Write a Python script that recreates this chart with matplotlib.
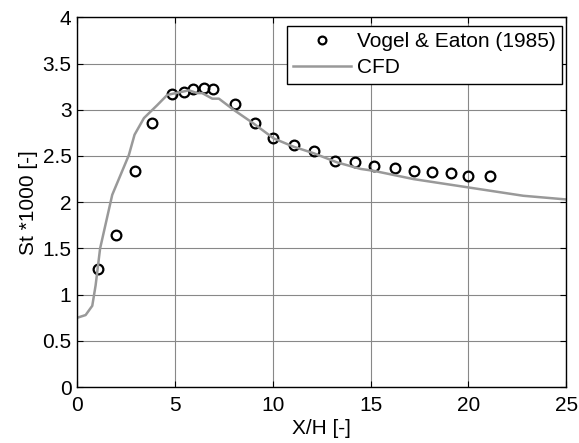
import numpy as np
import matplotlib.pyplot as plt

plt.rcParams['font.family'] = ['Liberation Sans', 'DejaVu Sans']

# Vogel & Eaton (1985) experiment
exp_x = [1.09, 1.97, 2.98, 3.85, 4.83, 5.46, 5.94, 6.48, 6.96, 8.05, 9.07, 10.0,
         11.1, 12.13, 13.2, 14.2, 15.2, 16.26, 17.2, 18.16, 19.1, 20.0, 21.1]
exp_st = [1.28, 1.65, 2.34, 2.86, 3.17, 3.19, 3.22, 3.23, 3.22, 3.06, 2.86, 2.69,
          2.62, 2.55, 2.45, 2.44, 2.39, 2.37, 2.34, 2.33, 2.32, 2.28, 2.28]

# CFD
cfd_x = [0.0, 0.44, 0.78, 0.95, 1.18, 1.8, 2.65, 2.94, 3.42, 4.1, 4.61, 5.04, 5.72,
         6.14, 6.4, 6.91, 7.25, 8.0, 9.03, 10.05, 11.07, 12.09, 13.3, 14.5, 15.15,
         17.2, 20.0, 22.8, 25.0]
cfd_st = [0.75, 0.78, 0.88, 1.1, 1.5, 2.08, 2.51, 2.73, 2.91, 3.05, 3.16, 3.18, 3.21,
          3.18, 3.18, 3.12, 3.12, 3.0, 2.85, 2.69, 2.6, 2.53, 2.43, 2.36, 2.34,
          2.25, 2.16, 2.07, 2.03]

fig = plt.figure(figsize=(5.79, 4.43), dpi=100)
ax = fig.add_axes([0.133, 0.126, 0.845, 0.835])

ax.plot(exp_x, exp_st, 'o', mfc='none', mec='black', mew=1.6, ms=7,
        label='Vogel & Eaton (1985)')
ax.plot(cfd_x, cfd_st, '-', color='#999999', lw=1.8, label='CFD')

ax.set_xlim(0, 25)
ax.set_ylim(0, 4)
ax.set_xticks(np.arange(0, 26, 5))
ax.set_yticks(np.arange(0, 4.01, 0.5))
ax.set_yticklabels(['0', '0.5', '1', '1.5', '2', '2.5', '3', '3.5', '4'])
ax.grid(True, color='#888888', lw=0.8)
ax.set_axisbelow(True)
ax.tick_params(direction='in', top=True, right=True, labelsize=15, length=4)
ax.tick_params(axis='x', pad=6)
ax.tick_params(axis='y', pad=4)
for s in ax.spines.values():
    s.set_linewidth(1.0)

ax.set_xlabel('X/H [-]', fontsize=15, labelpad=3)
ax.set_ylabel('St *1000 [-]', fontsize=15, labelpad=3)

leg = ax.legend(loc='upper right', bbox_to_anchor=(0.992, 0.977), fontsize=15,
                fancybox=False, framealpha=1, edgecolor='black', borderaxespad=0,
                handlelength=2.8, handletextpad=0.3, borderpad=0.3,
                labelspacing=0.35, markerscale=0.8)
leg.get_frame().set_linewidth(1.0)

fig.savefig('out.png', dpi=100)
